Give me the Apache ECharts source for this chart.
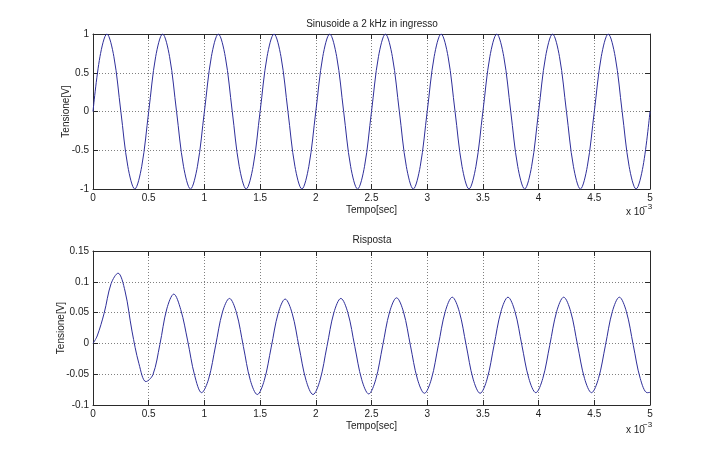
<!DOCTYPE html>
<html>
<head>
<meta charset="utf-8">
<script src="https://cdn.jsdelivr.net/npm/echarts@6/dist/echarts.min.js"></script>
<style>
  html, body { margin: 0; padding: 0; background: #fff; }
  #chart { width: 718px; height: 456px; }
</style>
</head>
<body>
<div id="chart"></div>
<script>
  // tempo in ms (asse moltiplicato per 10^-3)
  var tIn = [
    0, 0.0625, 0.125, 0.1875, 0.25, 0.3125, 0.375, 0.4375,
    0.5, 0.5625, 0.625, 0.6875, 0.75, 0.8125, 0.875, 0.9375,
    1, 1.0625, 1.125, 1.1875, 1.25, 1.3125, 1.375, 1.4375,
    1.5, 1.5625, 1.625, 1.6875, 1.75, 1.8125, 1.875, 1.9375,
    2, 2.0625, 2.125, 2.1875, 2.25, 2.3125, 2.375, 2.4375,
    2.5, 2.5625, 2.625, 2.6875, 2.75, 2.8125, 2.875, 2.9375,
    3, 3.0625, 3.125, 3.1875, 3.25, 3.3125, 3.375, 3.4375,
    3.5, 3.5625, 3.625, 3.6875, 3.75, 3.8125, 3.875, 3.9375,
    4, 4.0625, 4.125, 4.1875, 4.25, 4.3125, 4.375, 4.4375,
    4.5, 4.5625, 4.625, 4.6875, 4.75, 4.8125, 4.875, 4.9375,
    5
  ]
  var vIn = [
    0, 0.707, 1, 0.707, 0, -0.707, -1, -0.707,
    0, 0.707, 1, 0.707, 0, -0.707, -1, -0.707,
    0, 0.707, 1, 0.707, 0, -0.707, -1, -0.707,
    0, 0.707, 1, 0.707, 0, -0.707, -1, -0.707,
    0, 0.707, 1, 0.707, 0, -0.707, -1, -0.707,
    0, 0.707, 1, 0.707, 0, -0.707, -1, -0.707,
    0, 0.707, 1, 0.707, 0, -0.707, -1, -0.707,
    0, 0.707, 1, 0.707, 0, -0.707, -1, -0.707,
    0, 0.707, 1, 0.707, 0, -0.707, -1, -0.707,
    0, 0.707, 1, 0.707, 0, -0.707, -1, -0.707,
    0
  ]

  var tOut = [
    0, 0.0375, 0.1, 0.1625, 0.225, 0.2875, 0.35, 0.4125, 0.475,
    0.5375, 0.6, 0.6625, 0.725, 0.7875, 0.85, 0.9125, 0.975,
    1.0375, 1.1, 1.1625, 1.225, 1.2875, 1.35, 1.4125, 1.475,
    1.5375, 1.6, 1.6625, 1.725, 1.7875, 1.85, 1.9125, 1.975,
    2.0375, 2.1, 2.1625, 2.225, 2.2875, 2.35, 2.4125, 2.475,
    2.5375, 2.6, 2.6625, 2.725, 2.7875, 2.85, 2.9125, 2.975,
    3.0375, 3.1, 3.1625, 3.225, 3.2875, 3.35, 3.4125, 3.475,
    3.5375, 3.6, 3.6625, 3.725, 3.7875, 3.85, 3.9125, 3.975,
    4.0375, 4.1, 4.1625, 4.225, 4.2875, 4.35, 4.4125, 4.475,
    4.5375, 4.6, 4.6625, 4.725, 4.7875, 4.85, 4.9125, 4.975,
    5
  ]
  var vOut = [
    0, 0.012, 0.049, 0.097, 0.114, 0.085, 0.02, -0.033, -0.062,
    -0.051, -0.002, 0.056, 0.080, 0.055, 0.004, -0.052, -0.080,
    -0.058, -0.004, 0.051, 0.073, 0.050, -0.005, -0.060, -0.083,
    -0.060, -0.006, 0.049, 0.072, 0.049, -0.006, -0.060, -0.083,
    -0.060, -0.005, 0.050, 0.073, 0.050, -0.005, -0.059, -0.082,
    -0.059, -0.004, 0.051, 0.074, 0.051, -0.004, -0.058, -0.081,
    -0.058, -0.003, 0.052, 0.075, 0.052, -0.003, -0.058, -0.081,
    -0.058, -0.003, 0.052, 0.075, 0.052, -0.003, -0.057, -0.080,
    -0.057, -0.003, 0.052, 0.075, 0.052, -0.003, -0.057, -0.080,
    -0.057, -0.003, 0.052, 0.075, 0.052, -0.003, -0.057, -0.080,
    -0.0795
  ]

  var xTicks = [0, 5, 0.5]          // min, max, passo
  var yTicksIn = [-1, 1, 0.5]
  var yTicksOut = [-0.1, 0.15, 0.05]

  var FONT = "'Liberation Sans', Arial, sans-serif"
  var AXIS_COLOR = '#2a2a2a'
  var LINE_COLOR = '#2f2f9a'

  function pairs(t, v) {
    var out = []
    for (var i = 0; i < t.length; i++) out.push([t[i], v[i]])
    return out
  }

  function fmt(v) {
    return String(+v.toFixed(2))
  }

  function xAxisFor(grid, top, ticks) {
    return {
      type: 'value',
      gridIndex: grid,
      position: top ? 'top' : 'bottom',
      min: ticks[0], max: ticks[1], interval: ticks[2],
      name: top ? '' : 'Tempo[sec]',
      nameLocation: 'middle',
      nameGap: 16,
      nameMoveOverlap: false,
      nameTextStyle: { fontFamily: FONT, fontSize: 10, color: '#222' },
      axisLine: { show: true, onZero: false, lineStyle: { color: AXIS_COLOR, width: 1 } },
      axisTick: { show: true, inside: true, length: 5, lineStyle: { color: AXIS_COLOR } },
      axisLabel: { show: !top, margin: 4, fontFamily: FONT, fontSize: 10, color: '#222', formatter: fmt },
      splitLine: { show: !top, lineStyle: { color: '#808080', type: [1, 2], width: 1 } }
    }
  }

  function yAxisFor(grid, right, ticks, gap) {
    return {
      type: 'value',
      gridIndex: grid,
      position: right ? 'right' : 'left',
      min: ticks[0], max: ticks[1], interval: ticks[2],
      name: right ? '' : 'Tensione[V]',
      nameLocation: 'middle',
      nameGap: gap,
      nameMoveOverlap: false,
      nameTextStyle: { fontFamily: FONT, fontSize: 10, color: '#222' },
      axisLine: { show: true, onZero: false, lineStyle: { color: AXIS_COLOR, width: 1 } },
      axisTick: { show: true, inside: true, length: 5, lineStyle: { color: AXIS_COLOR } },
      axisLabel: { show: !right, margin: 4, fontFamily: FONT, fontSize: 10, color: '#222', formatter: fmt },
      splitLine: { show: !right, lineStyle: { color: '#808080', type: [1, 2], width: 1 } }
    }
  }

  function exponent(y) {
    return [
      { type: 'text', left: 626, top: y - 6, style: { text: 'x 10', font: '10px ' + FONT, fill: '#222' } },
      { type: 'text', left: 643, top: y - 10, style: { text: '\u22123', font: '8px ' + FONT, fill: '#222' } }
    ]
  }

  var chart = echarts.init(document.getElementById('chart'))
  chart.setOption({
    animation: false,
    backgroundColor: '#fff',
    grid: [
      { left: 93, top: 34, width: 557, height: 155 },
      { left: 93, top: 251, width: 557, height: 154 }
    ],
    xAxis: [
      xAxisFor(0, false, xTicks),
      xAxisFor(0, true, xTicks),
      xAxisFor(1, false, xTicks),
      xAxisFor(1, true, xTicks)
    ],
    yAxis: [
      yAxisFor(0, false, yTicksIn, 22),
      yAxisFor(0, true, yTicksIn, 0),
      yAxisFor(1, false, yTicksOut, 27),
      yAxisFor(1, true, yTicksOut, 0)
    ],
    graphic: [
      { type: 'text', x: 372, y: 24, style: { text: 'Sinusoide a 2 kHz in ingresso', font: '10px ' + FONT, fill: '#222', align: 'center', verticalAlign: 'middle' } },
      { type: 'text', x: 372, y: 240, style: { text: 'Risposta', font: '10px ' + FONT, fill: '#222', align: 'center', verticalAlign: 'middle' } }
    ].concat(exponent(213)).concat(exponent(431)),
    series: [
      {
        type: 'line',
        xAxisIndex: 0, yAxisIndex: 0,
        data: pairs(tIn, vIn),
        smooth: 0.35,
        showSymbol: false,
        lineStyle: { color: LINE_COLOR, width: 1 }
      },
      {
        type: 'line',
        xAxisIndex: 2, yAxisIndex: 2,
        data: pairs(tOut, vOut),
        smooth: 0.35,
        showSymbol: false,
        lineStyle: { color: LINE_COLOR, width: 1 }
      }
    ]
  })
</script>
</body>
</html>
